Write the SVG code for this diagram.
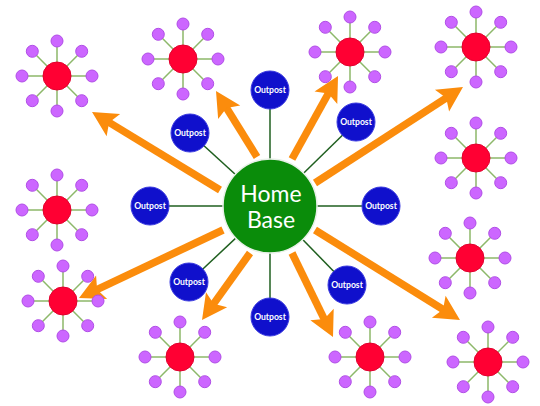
<svg xmlns="http://www.w3.org/2000/svg" xmlns:xlink="http://www.w3.org/1999/xlink" width="540" height="406" viewBox="0 0 540 406">
<style>
.bg{fill:#ffffff}
.spoke{stroke:#8db86a;stroke-width:1.5;fill:none}
.link{stroke:#1f5f1f;stroke-width:1.5}
.arrow{stroke:#fb8c0c;stroke-width:7.5;fill:none}
.sat{fill:#cc66ff;stroke:#b04ee6;stroke-width:1}
.hub{fill:#ff0033;stroke:#e2002e;stroke-width:1}
.outpost{fill:#1010cc;stroke:#3a3ae0;stroke-width:1}
.home{fill:#0a8c0a;stroke:#e8f0e8;stroke-width:1.5}
.ot{fill:#ffffff;font-family:Lato,"Open Sans","Liberation Sans",sans-serif;font-size:8.6px;font-weight:bold;text-anchor:middle}
.ht{fill:#ffffff;font-family:Lato,"Open Sans","Liberation Sans",sans-serif;font-size:23px;text-anchor:middle}
</style>
<defs>
<marker id="head" markerUnits="userSpaceOnUse" markerWidth="30" markerHeight="30" viewBox="-1 -15 28 30" refX="7" refY="0" orient="auto">
<path d="M0,-13 L25,0 L0,13 L5,0 Z" fill="#fb8c0c"/>
</marker>
<path id="spokes" d="M0,-35V35M-35,0H35M-24.7,-24.7L24.7,24.7M24.7,-24.7L-24.7,24.7"/>
<g id="ring">
<circle class="sat" cx="0" cy="-35" r="6"/>
<circle class="sat" cx="24.7" cy="-24.7" r="6"/>
<circle class="sat" cx="35" cy="0" r="6"/>
<circle class="sat" cx="24.7" cy="24.7" r="6"/>
<circle class="sat" cx="0" cy="35" r="6"/>
<circle class="sat" cx="-24.7" cy="24.7" r="6"/>
<circle class="sat" cx="-35" cy="0" r="6"/>
<circle class="sat" cx="-24.7" cy="-24.7" r="6"/>
</g>
</defs>
<rect class="bg" x="0" y="0" width="540" height="406"/>
<g id="connectors">
<g class="spoke">
<use xlink:href="#spokes" href="#spokes" x="57" y="76"/>
<use xlink:href="#spokes" href="#spokes" x="183" y="59"/>
<use xlink:href="#spokes" href="#spokes" x="350" y="52"/>
<use xlink:href="#spokes" href="#spokes" x="476" y="47"/>
<use xlink:href="#spokes" href="#spokes" x="476" y="158"/>
<use xlink:href="#spokes" href="#spokes" x="57" y="210"/>
<use xlink:href="#spokes" href="#spokes" x="63" y="301"/>
<use xlink:href="#spokes" href="#spokes" x="180" y="357"/>
<use xlink:href="#spokes" href="#spokes" x="370" y="357"/>
<use xlink:href="#spokes" href="#spokes" x="470" y="258"/>
<use xlink:href="#spokes" href="#spokes" x="488" y="362"/>
</g>
<g class="link">
<line x1="270" y1="206" x2="270" y2="90"/>
<line x1="270" y1="206" x2="190" y2="133"/>
<line x1="270" y1="206" x2="356" y2="122"/>
<line x1="270" y1="206" x2="150" y2="206"/>
<line x1="270" y1="206" x2="381" y2="206"/>
<line x1="270" y1="206" x2="189" y2="282"/>
<line x1="270" y1="206" x2="347" y2="285"/>
<line x1="270" y1="206" x2="270" y2="317"/>
</g>
<g class="arrow">
<line x1="220" y1="190" x2="107.4" y2="121.4" marker-end="url(#head)"/>
<line x1="257" y1="157" x2="225.5" y2="106.3" marker-end="url(#head)"/>
<line x1="292" y1="159" x2="329.3" y2="91.7" marker-end="url(#head)"/>
<line x1="315" y1="183" x2="447.9" y2="96.8" marker-end="url(#head)"/>
<line x1="315" y1="230" x2="444.7" y2="310.5" marker-end="url(#head)"/>
<line x1="292" y1="253" x2="325.1" y2="320.8" marker-end="url(#head)"/>
<line x1="250" y1="253" x2="212.5" y2="305.4" marker-end="url(#head)"/>
<line x1="223" y1="230" x2="95.3" y2="290.3" marker-end="url(#head)"/>
</g>
</g>
<g id="cluster1" transform="translate(57,76)"><use xlink:href="#ring" href="#ring"/><circle class="hub" r="14"/></g>
<g id="cluster2" transform="translate(183,59)"><use xlink:href="#ring" href="#ring"/><circle class="hub" r="14"/></g>
<g id="cluster3" transform="translate(350,52)"><use xlink:href="#ring" href="#ring"/><circle class="hub" r="14"/></g>
<g id="cluster4" transform="translate(476,47)"><use xlink:href="#ring" href="#ring"/><circle class="hub" r="14"/></g>
<g id="cluster5" transform="translate(476,158)"><use xlink:href="#ring" href="#ring"/><circle class="hub" r="14"/></g>
<g id="cluster6" transform="translate(57,210)"><use xlink:href="#ring" href="#ring"/><circle class="hub" r="14"/></g>
<g id="cluster7" transform="translate(63,301)"><use xlink:href="#ring" href="#ring"/><circle class="hub" r="14"/></g>
<g id="cluster8" transform="translate(180,357)"><use xlink:href="#ring" href="#ring"/><circle class="hub" r="14"/></g>
<g id="cluster9" transform="translate(370,357)"><use xlink:href="#ring" href="#ring"/><circle class="hub" r="14"/></g>
<g id="cluster10" transform="translate(470,258)"><use xlink:href="#ring" href="#ring"/><circle class="hub" r="14"/></g>
<g id="cluster11" transform="translate(488,362)"><use xlink:href="#ring" href="#ring"/><circle class="hub" r="14"/></g>
<g id="outpost-n"><circle class="outpost" cx="270" cy="90" r="19"/><text class="ot" x="270" y="93">Outpost</text></g>
<g id="outpost-nw"><circle class="outpost" cx="190" cy="133" r="19"/><text class="ot" x="190" y="136">Outpost</text></g>
<g id="outpost-ne"><circle class="outpost" cx="356" cy="122" r="19"/><text class="ot" x="356" y="125">Outpost</text></g>
<g id="outpost-w"><circle class="outpost" cx="150" cy="206" r="19"/><text class="ot" x="150" y="209">Outpost</text></g>
<g id="outpost-e"><circle class="outpost" cx="381" cy="206" r="19"/><text class="ot" x="381" y="209">Outpost</text></g>
<g id="outpost-sw"><circle class="outpost" cx="189" cy="282" r="19"/><text class="ot" x="189" y="285">Outpost</text></g>
<g id="outpost-se"><circle class="outpost" cx="347" cy="285" r="19"/><text class="ot" x="347" y="288">Outpost</text></g>
<g id="outpost-s"><circle class="outpost" cx="270" cy="317" r="19"/><text class="ot" x="270" y="320">Outpost</text></g>
<g id="home-base"><circle class="home" cx="270" cy="206" r="47"/><text class="ht" x="271" y="202">Home</text><text class="ht" x="271" y="228">Base</text></g>
</svg>
